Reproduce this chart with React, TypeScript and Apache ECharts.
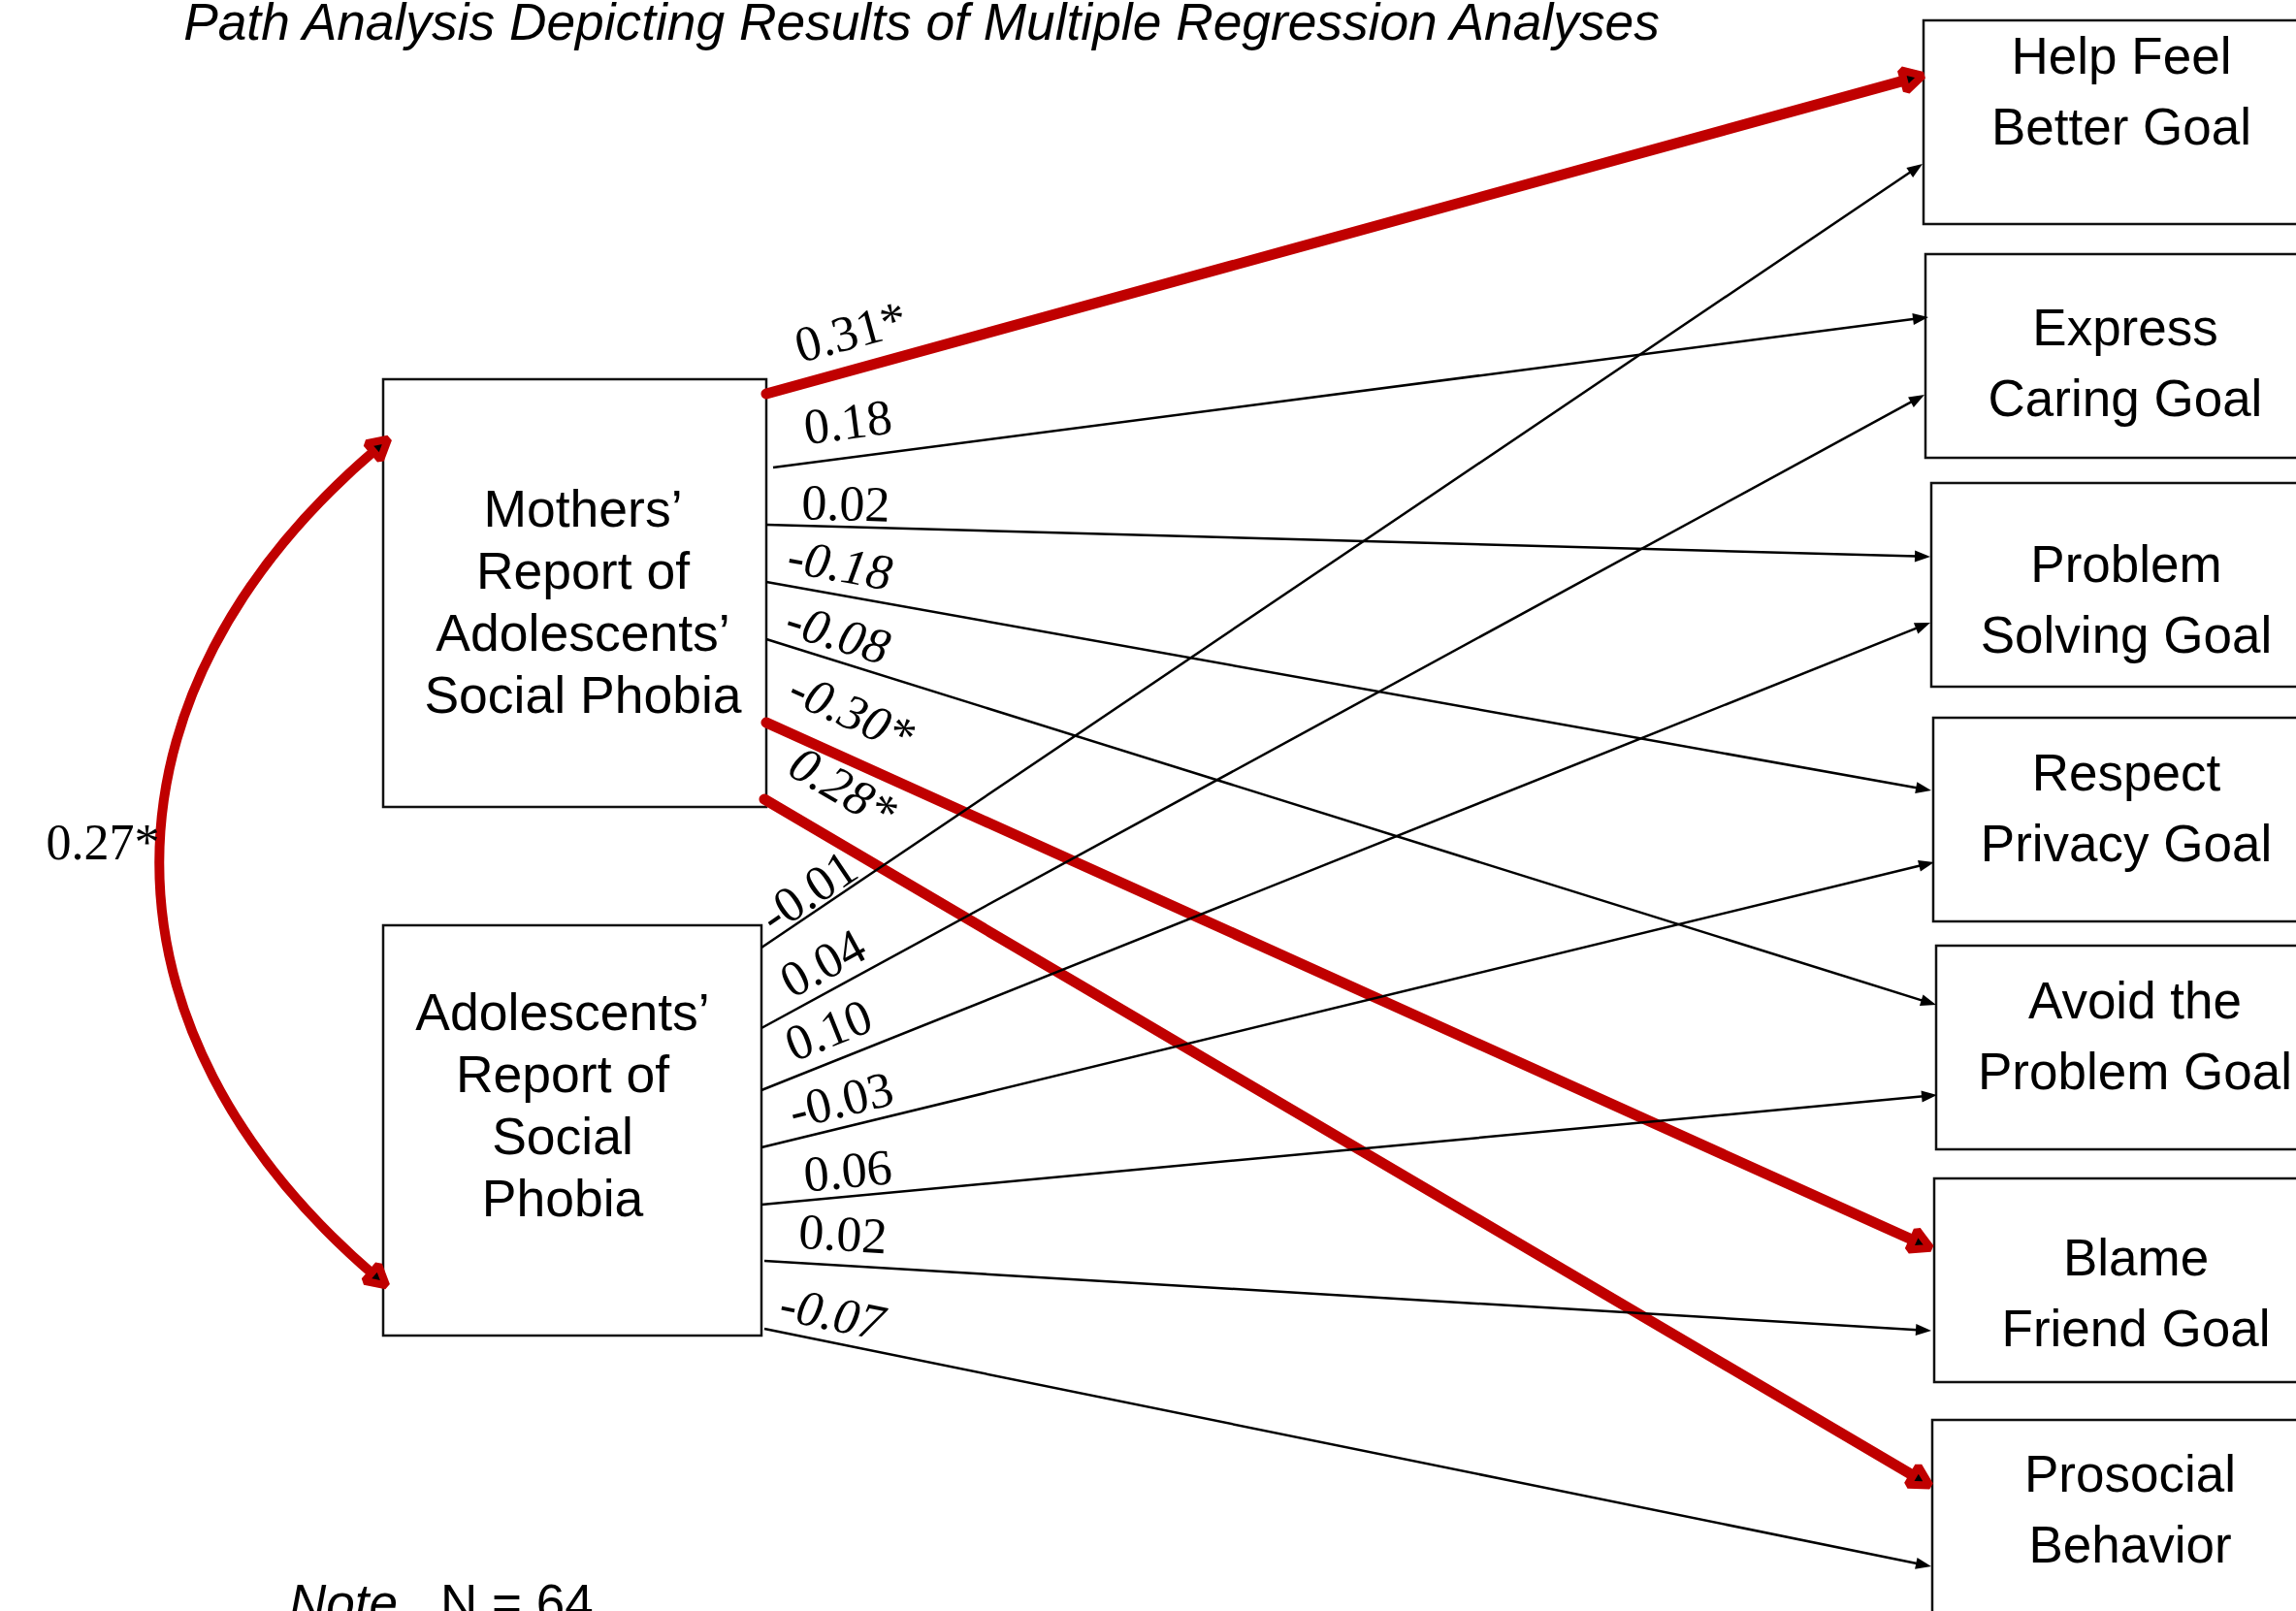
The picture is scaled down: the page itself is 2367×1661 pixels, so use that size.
import React, { useEffect, useRef } from "react";
import * as echarts from "echarts";

const W = 2367;
const H = 1661;

// ---------------- data ----------------
const title = "Path Analysis Depicting Results of Multiple Regression Analyses";
const predictors = [
  "Mothers’\nReport of\nAdolescents’\nSocial Phobia",
  "Adolescents’\nReport of\nSocial\nPhobia",
];
const outcomes = [
  "Help Feel\nBetter Goal",
  "Express\nCaring Goal",
  "Problem\nSolving Goal",
  "Respect\nPrivacy Goal",
  "Avoid the\nProblem Goal",
  "Blame\nFriend Goal",
  "Prosocial\nBehavior",
];
const mothersBeta = [0.31, 0.18, 0.02, -0.18, -0.08, -0.3, 0.28];
const mothersSig = [true, false, false, false, false, true, true];
const adolescentsBeta = [-0.01, 0.04, 0.1, -0.03, 0.06, 0.02, -0.07];
const adolescentsSig = [false, false, false, false, false, false, false];
const correlation = 0.27;
const correlationSig = true;
const sampleSize = 64;

// ---------------- layout & style ----------------
const RED = "#C00000";
const SANS = "'Liberation Sans', Arial, sans-serif";
const SERIF = "'Liberation Serif', 'Times New Roman', serif";
const RED_W = 11;
const BLACK_W = 2.5;

const predictorBoxes = [
  { x0: 395, y0: 391, x1: 790, y1: 832, tx: 601, ty: 620, lh: 64 },
  { x0: 395, y0: 954, x1: 785, y1: 1377, tx: 580, ty: 1139, lh: 64 },
];
const outcomeBoxes = [
  { x0: 1983, y0: 21, tx: 2187, ty: 94 },
  { x0: 1985, y0: 262, tx: 2191, ty: 374 },
  { x0: 1991, y0: 498, tx: 2192, ty: 618 },
  { x0: 1993, y0: 740, tx: 2192, ty: 833 },
  { x0: 1996, y0: 975, tx: 2201, ty: 1068 },
  { x0: 1994, y0: 1215, tx: 2202, ty: 1333 },
  { x0: 1992, y0: 1464, tx: 2196, ty: 1556 },
];
const outcomeBoxH = 210;
const outcomeBoxRight = 2400;
const outcomeLH = 73.5;

const mothersAnchors = [
  [790, 406, 1985, 77],
  [797, 482, 1988, 327],
  [790, 541, 1990, 574],
  [790, 600, 1991, 815],
  [790, 659, 1996, 1036],
  [790, 745, 1993, 1288],
  [788, 824, 1992, 1533],
];
const mothersLabelPos = [
  [877, 342], [874, 435], [872, 519], [866, 582], [864, 653], [878, 734], [869, 812],
];
const mothersItalic = [false, false, false, true, true, true, true];

const adolAnchors = [
  [785, 977, 1982, 169],
  [785, 1060, 1984, 407],
  [785, 1124, 1990, 642],
  [785, 1183, 1994, 889],
  [785, 1242, 1997, 1129],
  [788, 1300, 1991, 1372],
  [788, 1370, 1991, 1615],
];
const adolLabelPos = [
  [833, 919], [848, 993], [854, 1062], [867, 1134], [874, 1207], [869, 1272], [858, 1354],
];
const adolItalic = [false, false, false, false, false, false, true];

// correlation curve: start, ctrl1, ctrl2, end
const curve = { p0: [388, 463], c1: [90, 717], c2: [90, 1061], p3: [386, 1315] };
const corrLabelPos = [106, 868];

const fmt = (v: number, sig: boolean) =>
  (v < 0 ? "-" : "") + Math.abs(v).toFixed(2) + (sig ? "*" : "");

type PathItem = {
  sx: number; sy: number; ex: number; ey: number;
  lx: number; ly: number; text: string; italic: boolean; sig: boolean;
};

const paths: PathItem[] = [];
outcomes.forEach((_, j) => {
  const a = mothersAnchors[j];
  const l = mothersLabelPos[j];
  paths.push({
    sx: a[0], sy: a[1], ex: a[2], ey: a[3], lx: l[0], ly: l[1],
    text: fmt(mothersBeta[j], mothersSig[j]), italic: mothersItalic[j], sig: mothersSig[j],
  });
});
outcomes.forEach((_, j) => {
  const a = adolAnchors[j];
  const l = adolLabelPos[j];
  paths.push({
    sx: a[0], sy: a[1], ex: a[2], ey: a[3], lx: l[0], ly: l[1],
    text: fmt(adolescentsBeta[j], adolescentsSig[j]), italic: adolItalic[j], sig: adolescentsSig[j],
  });
});

function arrowPts(tip: number[], ux: number, uy: number, len: number, half: number) {
  const bx = tip[0] - ux * len;
  const by = tip[1] - uy * len;
  return [
    [tip[0], tip[1]],
    [bx - uy * half, by + ux * half],
    [bx + uy * half, by - ux * half],
  ];
}

const RA_LEN = 20;
const RA_HALF = 11;
const RA_STROKE = 8;

function makePathSeries(list: PathItem[], z: number) {
  return {
    type: "custom",
    coordinateSystem: "cartesian2d",
    z,
    silent: true,
    clip: false,
    encode: { x: [0, 2], y: [1, 3] },
    data: list.map((p) => [p.sx, p.sy, p.ex, p.ey]),
    renderItem: (params: any, api: any) => {
      const p = list[params.dataIndex];
      const s = api.coord([api.value(0), api.value(1)]);
      const e = api.coord([api.value(2), api.value(3)]);
      const dx = e[0] - s[0];
      const dy = e[1] - s[1];
      const m = Math.hypot(dx, dy);
      const ux = dx / m;
      const uy = dy / m;
      const angle = Math.atan2(dy, dx);
      const lab = api.coord([p.lx, p.ly]);
      const label = {
        type: "text",
        x: lab[0],
        y: lab[1],
        rotation: -angle,
        style: {
          text: p.text,
          align: "center",
          verticalAlign: "middle",
          fontSize: 52,
          fontFamily: SERIF,
          fontStyle: p.italic ? "italic" : "normal",
          fill: "#000",
        },
      };
      if (p.sig) {
        const tip = [e[0] - ux * 3, e[1] - uy * 3];
        const base = [tip[0] - ux * (RA_LEN - 2), tip[1] - uy * (RA_LEN - 2)];
        return {
          type: "group",
          children: [
            {
              type: "line",
              shape: { x1: s[0], y1: s[1], x2: base[0], y2: base[1] },
              style: { stroke: RED, lineWidth: RED_W, lineCap: "round" },
            },
            {
              type: "polygon",
              shape: { points: arrowPts(tip, ux, uy, RA_LEN, RA_HALF) },
              style: { fill: "#000", stroke: RED, lineWidth: RA_STROKE, lineJoin: "bevel" },
            },
            label,
          ],
        };
      }
      const len = 16;
      const base = [e[0] - ux * (len - 2), e[1] - uy * (len - 2)];
      return {
        type: "group",
        children: [
          {
            type: "line",
            shape: { x1: s[0], y1: s[1], x2: base[0], y2: base[1] },
            style: { stroke: "#000", lineWidth: BLACK_W },
          },
          {
            type: "polygon",
            shape: { points: arrowPts(e, ux, uy, len, 6) },
            style: { fill: "#000" },
          },
          label,
        ],
      };
    },
  };
}

export default function App() {
  const ref = useRef<HTMLDivElement>(null);

  useEffect(() => {
    const el = ref.current;
    if (!el) return;
    const chart = echarts.init(el, null, { renderer: "svg" });

    const boxItems = [
      ...predictorBoxes.map((b, i) => ({
        x0: b.x0, y0: b.y0, x1: b.x1, y1: b.y1, tx: b.tx, ty: b.ty, lh: b.lh, fs: 53.5, text: predictors[i],
      })),
      ...outcomeBoxes.map((b, i) => ({
        x0: b.x0, y0: b.y0, x1: outcomeBoxRight, y1: b.y0 + outcomeBoxH, tx: b.tx, ty: b.ty, lh: outcomeLH, fs: 53, text: outcomes[i],
      })),
    ];

    const option: any = {
      animation: false,
      backgroundColor: "#fff",
      grid: { left: 0, right: 0, top: 0, bottom: 0 },
      xAxis: { type: "value", min: 0, max: W, show: false },
      yAxis: { type: "value", min: 0, max: H, inverse: true, show: false },
      graphic: [
        {
          type: "text",
          x: 950,
          y: 22,
          style: {
            text: title,
            align: "center",
            verticalAlign: "middle",
            fontSize: 53.3,
            fontStyle: "italic",
            fontFamily: SANS,
            fill: "#000",
          },
        },
        {
          type: "text",
          x: 298,
          y: 1652,
          style: {
            text: "{i|Note.}  N = " + sampleSize,
            align: "left",
            verticalAlign: "middle",
            fontSize: 53,
            fontFamily: SANS,
            fill: "#000",
            rich: {
              i: { fontStyle: "italic", fontSize: 53, fontFamily: SANS, fill: "#000" },
            },
          },
        },
      ],
      series: [
        {
          type: "custom",
          coordinateSystem: "cartesian2d",
          z: 1,
          silent: true,
          clip: false,
          encode: { x: [0, 2], y: [1, 3] },
          data: boxItems.map((b) => [b.x0, b.y0, b.x1, b.y1]),
          renderItem: (params: any, api: any) => {
            const b = boxItems[params.dataIndex];
            const a = api.coord([api.value(0), api.value(1)]);
            const c = api.coord([api.value(2), api.value(3)]);
            const t = api.coord([b.tx, b.ty]);
            return {
              type: "group",
              children: [
                {
                  type: "rect",
                  shape: { x: a[0], y: a[1], width: c[0] - a[0], height: c[1] - a[1] },
                  style: { fill: "none", stroke: "#111", lineWidth: 2.5 },
                },
                {
                  type: "text",
                  x: t[0],
                  y: t[1],
                  style: {
                    text: b.text,
                    align: "center",
                    verticalAlign: "middle",
                    fontSize: b.fs,
                    lineHeight: b.lh,
                    fontFamily: SANS,
                    fill: "#000",
                  },
                },
              ],
            };
          },
        },
        {
          type: "custom",
          coordinateSystem: "cartesian2d",
          z: 2,
          silent: true,
          clip: false,
          encode: { x: [0], y: [1] },
          data: [[curve.p0[0], curve.p0[1]]],
          renderItem: (params: any, api: any) => {
            const p0 = api.coord(curve.p0);
            const c1 = api.coord(curve.c1);
            const c2 = api.coord(curve.c2);
            const p3 = api.coord(curve.p3);
            const lab = api.coord(corrLabelPos);
            const d0x = p0[0] - c1[0], d0y = p0[1] - c1[1];
            const m0 = Math.hypot(d0x, d0y);
            const d3x = p3[0] - c2[0], d3y = p3[1] - c2[1];
            const m3 = Math.hypot(d3x, d3y);
            const u0 = [d0x / m0, d0y / m0];
            const u3 = [d3x / m3, d3y / m3];
            const tip0 = [p0[0] + u0[0] * (RA_LEN - 4), p0[1] + u0[1] * (RA_LEN - 4)];
            const tip3 = [p3[0] + u3[0] * (RA_LEN - 4), p3[1] + u3[1] * (RA_LEN - 4)];
            return {
              type: "group",
              children: [
                {
                  type: "bezierCurve",
                  shape: {
                    x1: p0[0], y1: p0[1], cpx1: c1[0], cpy1: c1[1],
                    cpx2: c2[0], cpy2: c2[1], x2: p3[0], y2: p3[1],
                  },
                  style: { stroke: RED, lineWidth: RED_W - 1, fill: "none" },
                },
                {
                  type: "polygon",
                  shape: { points: arrowPts(tip0, u0[0], u0[1], RA_LEN, RA_HALF) },
                  style: { fill: "#000", stroke: RED, lineWidth: RA_STROKE, lineJoin: "bevel" },
                },
                {
                  type: "polygon",
                  shape: { points: arrowPts(tip3, u3[0], u3[1], RA_LEN, RA_HALF) },
                  style: { fill: "#000", stroke: RED, lineWidth: RA_STROKE, lineJoin: "bevel" },
                },
                {
                  type: "text",
                  x: lab[0],
                  y: lab[1],
                  style: {
                    text: fmt(correlation, correlationSig),
                    align: "center",
                    verticalAlign: "middle",
                    fontSize: 52,
                    fontFamily: SERIF,
                    fill: "#000",
                  },
                },
              ],
            };
          },
        },
        makePathSeries(paths.filter((p) => p.sig), 3),
        makePathSeries(paths.filter((p) => !p.sig), 4),
      ],
    };

    chart.setOption(option);
    return () => chart.dispose();
  }, []);

  return (
    <div
      ref={ref}
      style={{ position: "fixed", left: 0, top: 0, width: W, height: H, background: "#fff" }}
    />
  );
}
